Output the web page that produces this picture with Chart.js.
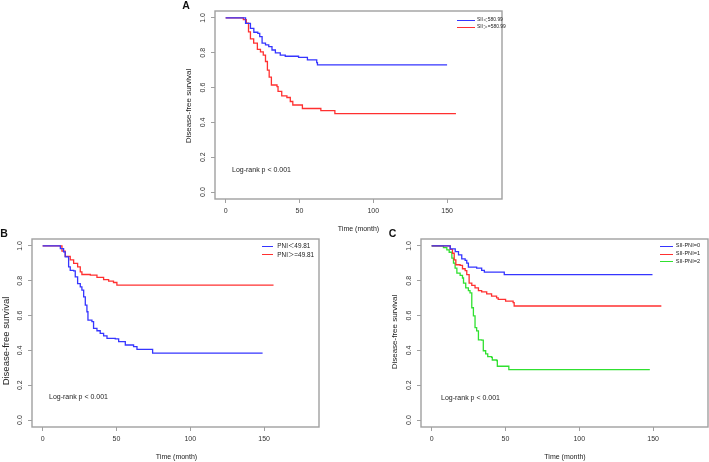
<!DOCTYPE html>
<html>
<head>
<meta charset="utf-8">
<script src="https://cdn.jsdelivr.net/npm/chart.js@4.4.1/dist/chart.umd.min.js"></script>
<style>
  html, body { margin: 0; padding: 0; background: #fff; }
  #wrap { position: relative; width: 709px; height: 462px; overflow: hidden; background: #fff;
          font-family: "Liberation Sans", Arial, "Noto Sans CJK SC", sans-serif; color: #222; }
  canvas { position: absolute; }
  .t { position: absolute; white-space: nowrap; line-height: 1; transform: translate(-50%, -50%); }
  .l { position: absolute; white-space: nowrap; line-height: 1; transform: translateY(-50%); }
  .r { position: absolute; white-space: nowrap; line-height: 1; transform: translate(-50%, -50%) rotate(-90deg); }
  .lg { position: absolute; height: 0; border-top: 1.3px solid; }
  .pl { font-weight: bold; font-size: 10.5px; color: #111; }
</style>
</head>
<body>
<div id="wrap">
  <canvas id="cA" width="330" height="230" style="left:180px;top:0px;"></canvas>
  <canvas id="cB" width="350" height="232" style="left:0px;top:230px;"></canvas>
  <canvas id="cC" width="329" height="232" style="left:380px;top:230px;"></canvas>

  <div class="t pl" style="left:186px;top:5px;">A</div>
  <div class="t pl" style="left:4px;top:233px;">B</div>
  <div class="t pl" style="left:392.5px;top:232.5px;">C</div>

  <div class="r" style="left:188.5px;top:105.5px;font-size:8px;">Disease-free survival</div>
  <div class="r" style="left:6px;top:341px;font-size:9.5px;">Disease-free survival</div>
  <div class="r" style="left:394.5px;top:332px;font-size:8px;">Disease-free survival</div>

  <div class="t" style="left:358.5px;top:227.5px;font-size:7px;">Time (month)</div>
  <div class="t" style="left:176.5px;top:455.5px;font-size:7px;">Time (month)</div>
  <div class="t" style="left:565px;top:455.5px;font-size:7px;">Time (month)</div>

  <div class="l" style="left:232px;top:169.3px;font-size:7px;">Log-rank p &lt; 0.001</div>
  <div class="l" style="left:49px;top:395.7px;font-size:7px;">Log-rank p &lt; 0.001</div>
  <div class="l" style="left:441px;top:396.7px;font-size:7px;">Log-rank p &lt; 0.001</div>

  <!-- legend A -->
  <div class="lg" style="left:457px;top:20px;width:18px;border-color:#3535ff;"></div>
  <div class="l" style="left:477px;top:20.3px;font-size:4.9px;">SII＜580.99</div>
  <div class="lg" style="left:457px;top:26.7px;width:18px;border-color:#ff3030;"></div>
  <div class="l" style="left:477px;top:27px;font-size:4.9px;">SII＞=580.99</div>

  <!-- legend B -->
  <div class="lg" style="left:261.7px;top:246px;width:11.6px;border-color:#3535ff;"></div>
  <div class="l" style="left:277.3px;top:246.3px;font-size:6.4px;">PNI＜49.81</div>
  <div class="lg" style="left:261.7px;top:254.3px;width:11.6px;border-color:#ff3030;"></div>
  <div class="l" style="left:277.3px;top:254.6px;font-size:6.4px;">PNI＞=49.81</div>

  <!-- legend C -->
  <div class="lg" style="left:660px;top:245.7px;width:13.3px;border-color:#3535ff;"></div>
  <div class="l" style="left:675.7px;top:246px;font-size:5.6px;">SII-PNI=0</div>
  <div class="lg" style="left:660px;top:253.7px;width:13.3px;border-color:#ff3030;"></div>
  <div class="l" style="left:675.7px;top:254px;font-size:5.6px;">SII-PNI=1</div>
  <div class="lg" style="left:660px;top:261.3px;width:13.3px;border-color:#30e030;"></div>
  <div class="l" style="left:675.7px;top:261.6px;font-size:5.6px;">SII-PNI=2</div>
</div>

<script>
// ---------- tick labels ----------
const xTicks = [0, 50, 100, 150];
const yTicks = [0, 0.2, 0.4, 0.6, 0.8, 1.0];

// ---------- Panel A: SII ----------
const aLowTime = [0, 10.5, 13.5, 16.8, 19.1, 21.8, 23.1, 24.7, 27, 29.2, 31.4, 33.7, 37, 40.4, 49.4, 55.4, 61.7, 62.2, 150];
const aLowSurv = [1, 1, 0.969, 0.94, 0.918, 0.912, 0.893, 0.856, 0.845, 0.835, 0.816, 0.80, 0.787, 0.78, 0.774, 0.759, 0.743, 0.73, 0.73];
const aHighTime = [0, 9, 12, 14, 15.5, 16.8, 19, 21.5, 23.6, 25.5, 27, 28.3, 29.5, 31, 34.8, 35.5, 38, 41.5, 43.8, 45.5, 52, 64.5, 74, 156];
const aHighSurv = [1, 1, 0.99, 0.97, 0.92, 0.88, 0.855, 0.82, 0.805, 0.787, 0.75, 0.70, 0.66, 0.615, 0.605, 0.578, 0.552, 0.543, 0.52, 0.50, 0.48, 0.468, 0.45, 0.45];

// ---------- Panel B: PNI ----------
const bLowTime = [0, 8.6, 12, 14.2, 15.3, 17.6, 18.7, 21, 22.1, 23.7, 25.5, 26.6, 27.8, 28.9, 30, 30.7, 33.4, 34.5, 36.8, 39, 41.3, 43.6, 49.2, 51.5, 56, 61.6, 63.9, 74.5, 149];
const bLowSurv = [1, 1, 0.985, 0.966, 0.937, 0.88, 0.86, 0.857, 0.822, 0.784, 0.765, 0.746, 0.708, 0.66, 0.622, 0.574, 0.565, 0.527, 0.513, 0.498, 0.483, 0.469, 0.466, 0.45, 0.431, 0.422, 0.406, 0.384, 0.384];
const bHighTime = [0, 10.8, 13.1, 15.3, 18.7, 21, 23.7, 25.5, 26.6, 32.3, 36.8, 41.3, 44.7, 48, 50.3, 156.4];
const bHighSurv = [1, 1, 0.97, 0.94, 0.92, 0.90, 0.88, 0.851, 0.836, 0.832, 0.819, 0.807, 0.798, 0.79, 0.775, 0.775];

// ---------- Panel C: SII-PNI ----------
const c0Time = [0, 8, 12.6, 16, 18.2, 20.4, 22.7, 23.8, 24.9, 30.5, 33.9, 35.7, 49.2, 149.6];
const c0Surv = [1, 1, 0.983, 0.968, 0.949, 0.926, 0.917, 0.901, 0.879, 0.873, 0.86, 0.85, 0.835, 0.835];
const c1Time = [0, 9.2, 12.6, 14.1, 15.3, 16.4, 19.3, 20.9, 22.7, 23.8, 25.4, 27.2, 29.4, 31.7, 33.9, 37.3, 40.6, 44, 45.1, 50.1, 55.2, 55.9, 155.6];
const c1Surv = [1, 1, 0.98, 0.958, 0.92, 0.892, 0.888, 0.869, 0.858, 0.835, 0.787, 0.774, 0.759, 0.744, 0.736, 0.725, 0.712, 0.702, 0.693, 0.683, 0.674, 0.655, 0.655];
const c2Time = [0, 5.8, 8, 10.3, 11.9, 13.7, 14.8, 15.9, 17.1, 19.3, 20.9, 21.6, 23.1, 24.9, 26, 27.2, 28.3, 29.4, 30.5, 31.7, 33.9, 35, 36.6, 38, 40.6, 41.1, 44, 44.5, 52.3, 147.8];
const c2Surv = [1, 1, 0.99, 0.977, 0.964, 0.93, 0.901, 0.873, 0.844, 0.831, 0.816, 0.787, 0.759, 0.744, 0.73, 0.645, 0.598, 0.531, 0.512, 0.461, 0.459, 0.398, 0.38, 0.364, 0.36, 0.345, 0.342, 0.309, 0.29, 0.29];

const BLUE = '#3535ff', RED = '#ff3030', GREEN = '#30e030';
const BOX = '#a0a0a0';
const FONT = { family: '"Liberation Sans", Arial, sans-serif', size: 7 };

function pts(t, s) { return t.map((v, i) => ({ x: v, y: s[i] })); }
function ds(t, s, color) {
  return { data: pts(t, s), borderColor: color, borderWidth: 1.3, pointRadius: 0,
           fill: false, stepped: 'before', tension: 0 };
}

const boxPlugin = {
  id: 'rbox',
  afterDatasetsDraw(chart) {
    const a = chart.chartArea, ctx = chart.ctx;
    ctx.save();
    ctx.strokeStyle = BOX;
    ctx.lineWidth = 1.4;
    ctx.strokeRect(a.left, a.top, a.right - a.left, a.bottom - a.top);
    ctx.restore();
  }
};

function makeChart(id, datasets, pad) {
  return new Chart(document.getElementById(id), {
    type: 'line',
    data: { datasets },
    plugins: [boxPlugin],
    options: {
      responsive: false,
      animation: false,
      devicePixelRatio: 1,
      layout: { padding: pad },
      plugins: { legend: { display: false }, tooltip: { enabled: false } },
      scales: {
        x: {
          type: 'linear', min: -7.2, max: 187.2,
          afterBuildTicks: s => { s.ticks = xTicks.map(v => ({ value: v })); },
          afterFit: s => { s.height = 20; },
          border: { display: false },
          grid: { drawOnChartArea: false, drawTicks: true, tickLength: 4, color: BOX, lineWidth: 1 },
          ticks: { font: FONT, color: '#333', padding: 4, maxRotation: 0, minRotation: 0, autoSkip: false,
                   callback: v => String(v) }
        },
        y: {
          type: 'linear', min: -0.04, max: 1.04,
          afterBuildTicks: s => { s.ticks = yTicks.map(v => ({ value: v })); },
          afterFit: s => { s.width = 20; },
          border: { display: false },
          grid: { drawOnChartArea: false, drawTicks: true, tickLength: 4, color: BOX, lineWidth: 1 },
          ticks: { font: FONT, color: '#333', padding: 3.5, minRotation: 90, maxRotation: 90,
                   crossAlign: 'center', autoSkip: false, callback: v => Number(v).toFixed(1) }
        }
      }
    }
  });
}

makeChart('cA', [ds(aLowTime, aLowSurv, BLUE), ds(aHighTime, aHighSurv, RED)],
          { left: 15, top: 11, right: 8, bottom: 11 });
makeChart('cB', [ds(bLowTime, bLowSurv, BLUE), ds(bHighTime, bHighSurv, RED)],
          { left: 12, top: 9, right: 31, bottom: 15 });
makeChart('cC', [ds(c0Time, c0Surv, BLUE), ds(c1Time, c1Surv, RED), ds(c2Time, c2Surv, GREEN)],
          { left: 21, top: 9, right: 1, bottom: 15 });
</script>
</body>
</html>
